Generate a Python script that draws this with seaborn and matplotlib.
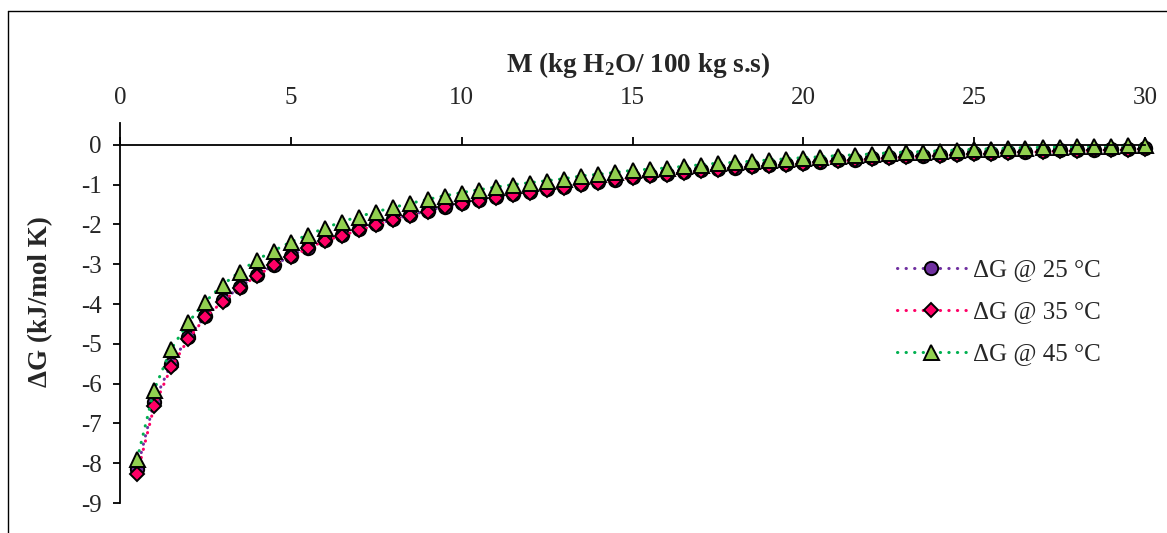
import matplotlib
matplotlib.use("Agg")
import matplotlib.pyplot as plt
import seaborn as sns
import pandas as pd
from matplotlib.lines import Line2D

# Moisture content (kg H2O / 100 kg dry solids)
moisture = [0.5, 1.0, 1.5, 2.0, 2.5, 3.0, 3.5, 4.0, 4.5, 5.0,
            5.5, 6.0, 6.5, 7.0, 7.5, 8.0, 8.5, 9.0, 9.5, 10.0,
            10.5, 11.0, 11.5, 12.0, 12.5, 13.0, 13.5, 14.0, 14.5, 15.0,
            15.5, 16.0, 16.5, 17.0, 17.5, 18.0, 18.5, 19.0, 19.5, 20.0,
            20.5, 21.0, 21.5, 22.0, 22.5, 23.0, 23.5, 24.0, 24.5, 25.0,
            25.5, 26.0, 26.5, 27.0, 27.5, 28.0, 28.5, 29.0, 29.5, 30.0]

# Gibbs free energy (kJ/mol K) at each temperature
dg_25 = [-8.15, -6.45, -5.50, -4.82, -4.31, -3.91, -3.58, -3.27, -3.02, -2.79,
         -2.58, -2.39, -2.26, -2.12, -2.00, -1.87, -1.76, -1.66, -1.55, -1.46,
         -1.38, -1.31, -1.24, -1.18, -1.12, -1.06, -0.98, -0.93, -0.87, -0.80,
         -0.76, -0.73, -0.69, -0.64, -0.60, -0.57, -0.54, -0.51, -0.48, -0.45,
         -0.42, -0.39, -0.37, -0.34, -0.31, -0.29, -0.27, -0.25, -0.23, -0.21,
         -0.20, -0.18, -0.17, -0.15, -0.14, -0.13, -0.12, -0.11, -0.10, -0.09]

dg_35 = [-8.28, -6.57, -5.59, -4.88, -4.33, -3.94, -3.59, -3.29, -3.03, -2.81,
         -2.60, -2.41, -2.28, -2.14, -2.02, -1.89, -1.78, -1.68, -1.57, -1.48,
         -1.40, -1.33, -1.26, -1.20, -1.14, -1.08, -1.00, -0.95, -0.89, -0.82,
         -0.78, -0.75, -0.71, -0.66, -0.62, -0.59, -0.56, -0.53, -0.50, -0.47,
         -0.44, -0.41, -0.39, -0.36, -0.33, -0.31, -0.29, -0.27, -0.25, -0.23,
         -0.22, -0.20, -0.19, -0.17, -0.16, -0.15, -0.14, -0.13, -0.12, -0.11]

dg_45 = [-7.90, -6.15, -5.13, -4.46, -3.94, -3.52, -3.19, -2.89, -2.66, -2.44,
         -2.26, -2.09, -1.93, -1.80, -1.68, -1.57, -1.47, -1.37, -1.28, -1.20,
         -1.13, -1.06, -1.00, -0.95, -0.90, -0.85, -0.78, -0.74, -0.69, -0.64,
         -0.61, -0.58, -0.54, -0.50, -0.46, -0.44, -0.41, -0.38, -0.35, -0.32,
         -0.30, -0.27, -0.25, -0.23, -0.20, -0.18, -0.17, -0.15, -0.13, -0.11,
         -0.10, -0.08, -0.07, -0.06, -0.05, -0.04, -0.03, -0.02, -0.01, -0.01]

series_labels = ["ΔG @ 25 °C", "ΔG @ 35 °C", "ΔG @ 45 °C"]
x_ticks = [0, 5, 10, 15, 20, 25, 30]
y_ticks = [0, -1, -2, -3, -4, -5, -6, -7, -8, -9]

sns.set_style("white")
plt.rcParams["font.family"] = ["Liberation Serif", "DejaVu Serif"]
plt.rcParams["mathtext.fontset"] = "custom"
plt.rcParams["mathtext.rm"] = "Liberation Serif:bold"
plt.rcParams["mathtext.bf"] = "Liberation Serif:bold"
plt.rcParams["mathtext.it"] = "Liberation Serif:bold:italic"

W, H = 1167, 533
fig = plt.figure(figsize=(W / 100, H / 100), dpi=100)
ax = fig.add_axes([120 / W, 1 - 503 / H, 1025 / W, (503 - 123) / H])

styles = [
    dict(y=dg_25, color="#7030A0", marker="o", mfc="#7030A0", ms=9.6),
    dict(y=dg_35, color="#FF0066", marker="D", mfc="#FF0066", ms=7.4),
    dict(y=dg_45, color="#00B050", marker="^", mfc="#92D050", ms=10.8),
]

for st, lab in zip(styles, series_labels):
    df = pd.DataFrame({"M": moisture, "dG": st["y"]})
    sns.lineplot(data=df, x="M", y="dG", ax=ax, color=st["color"],
                 marker=st["marker"], markerfacecolor=st["mfc"],
                 markeredgecolor="black", markeredgewidth=1.4,
                 markersize=st["ms"], linewidth=2.2,
                 linestyle=(0, (0.1, 2.7)), dash_capstyle="round",
                 clip_on=False, label=lab)

ax.set_xlim(0, 30)
ax.set_ylim(-9, 0.55)
ax.set_xticks(x_ticks)
ax.set_yticks(y_ticks)
ax.set_xticklabels([str(v) for v in x_ticks])
ax.set_yticklabels([str(v) for v in y_ticks])

for s in ("top", "right"):
    ax.spines[s].set_visible(False)
ax.spines["bottom"].set_position(("data", 0))
for s in ("left", "bottom"):
    ax.spines[s].set_color("black")
    ax.spines[s].set_linewidth(1.3)

ax.tick_params(axis="x", bottom=True, top=False, labelbottom=False,
               labeltop=True, direction="in", length=5.5, width=1.3,
               color="black", pad=10, labelsize=18)
ax.tick_params(axis="y", left=True, direction="out", length=5,
               width=1.3, color="black", pad=8, labelsize=18)
ax.set_xlabel("")
ax.set_ylabel("")
ax.grid(False)

fig.text(638 / W, 1 - 65 / H, r"M (kg H$_2$O/ 100 kg s.s)", fontsize=19.5,
         fontweight="bold", ha="center", va="center")
fig.text(41 / W, 1 - 302 / H, "ΔG (kJ/mol K)", fontsize=19.5,
         fontweight="bold", ha="center", va="center", rotation=90)

leg = ax.legend(loc="upper left", bbox_to_anchor=(897 / W, 1 - 259 / H),
                bbox_transform=fig.transFigure, frameon=False,
                fontsize=18, handlelength=2.75, handletextpad=0.3,
                labelspacing=0.78, borderpad=0, borderaxespad=0)

# Outer chart border
fig.add_artist(Line2D([7.5 / W, 7.5 / W], [0, 1 - 10.5 / H],
                      transform=fig.transFigure, color="black", lw=1.0))
fig.add_artist(Line2D([7.5 / W, 1], [1 - 10.5 / H, 1 - 10.5 / H],
                      transform=fig.transFigure, color="black", lw=1.0))

fig.savefig("out.png", dpi=100)
